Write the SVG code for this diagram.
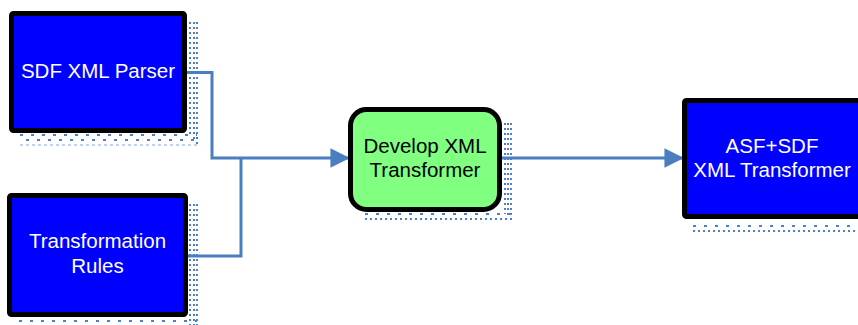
<svg xmlns="http://www.w3.org/2000/svg" width="858" height="325" viewBox="0 0 858 325">
  <style>
    .box { fill: #0000FF; stroke: #000000; stroke-width: 5; }
    .dev { fill: #80FF80; stroke: #000000; stroke-width: 5; }
    .wt { font-family: "Liberation Sans", Arial, sans-serif; font-size: 20.5px; fill: #FFFFFF; text-anchor: middle; }
    .bt { font-family: "Liberation Sans", Arial, sans-serif; font-size: 20.5px; fill: #000000; text-anchor: middle; }
    .sh { stroke: #4F7FC4; fill: none; }
    .s1 { stroke-width: 2; stroke-dasharray: 2 3; }
    .s2 { stroke-width: 2; stroke-dasharray: 3 8; }
    .s3 { stroke-width: 1.5; stroke-dasharray: 3 3; opacity: 0.45; }
    .link { fill: none; stroke: #4A7EBF; stroke-width: 3; }
  </style>
  <defs>
    <marker id="arrow" viewBox="0 0 10 10" refX="9" refY="5" markerWidth="6.5" markerHeight="6.5" orient="auto" markerUnits="strokeWidth">
      <path d="M0,0 L10,5 L0,10 Z" fill="#4A7EBF"/>
    </marker>
  </defs>

  <!-- dotted drop shadows -->
  <g id="shadows">
    <g id="shadow-parser" class="sh">
      <line class="s1" x1="190" y1="22" x2="190" y2="136"/>
      <line class="s1" x1="194" y1="22" x2="194" y2="142"/>
      <line class="s1" x1="197" y1="22" x2="197" y2="146"/>
      <line class="s2" x1="20" y1="135" x2="197" y2="135"/>
      <line class="s2" x1="26" y1="140" x2="197" y2="140"/>
      <line class="s3" x1="20" y1="145" x2="197" y2="145"/>
    </g>
    <g id="shadow-rules" class="sh">
      <line class="s1" x1="190" y1="204" x2="190" y2="325"/>
      <line class="s1" x1="194" y1="204" x2="194" y2="325"/>
      <line class="s1" x1="197" y1="204" x2="197" y2="325"/>
      <line class="s2" x1="19" y1="321" x2="197" y2="321"/>
    </g>
    <g id="shadow-dev" class="sh">
      <line class="s1" x1="505" y1="123" x2="505" y2="214"/>
      <line class="s1" x1="508" y1="123" x2="508" y2="218"/>
      <line class="s1" x1="511" y1="123" x2="511" y2="220"/>
      <line class="s2" x1="365" y1="214" x2="511" y2="214"/>
      <line class="s1" x1="365" y1="219" x2="511" y2="219"/>
    </g>
    <g id="shadow-asf" class="sh">
      <line class="s2" x1="693" y1="226" x2="858" y2="226"/>
      <line class="s1" x1="693" y1="231" x2="858" y2="231"/>
    </g>
  </g>

  <!-- connectors -->
  <g id="connectors">
    <path class="link" d="M187,72.5 H212 V158 H348" marker-end="url(#arrow)"/>
    <path class="link" d="M186,256 H241 V158"/>
    <path class="link" d="M502,158 H682" marker-end="url(#arrow)"/>
  </g>

  <g id="node-parser">
    <rect class="box" x="11.5" y="13.5" width="173" height="117" rx="2"/>
    <text class="wt" x="98" y="78">SDF XML Parser</text>
  </g>

  <g id="node-rules">
    <rect class="box" x="9.5" y="195.5" width="176" height="119" rx="2"/>
    <text class="wt" x="97.5" y="248">Transformation</text>
    <text class="wt" x="97.5" y="273">Rules</text>
  </g>

  <g id="node-develop">
    <rect class="dev" x="350.5" y="109.5" width="149" height="100" rx="16"/>
    <text class="bt" x="425" y="153">Develop XML</text>
    <text class="bt" x="425" y="177">Transformer</text>
  </g>

  <g id="node-asf">
    <rect class="box" x="684.5" y="100.5" width="180" height="116" rx="2"/>
    <text class="wt" x="772" y="153">ASF+SDF</text>
    <text class="wt" x="772" y="177">XML Transformer</text>
  </g>
</svg>
